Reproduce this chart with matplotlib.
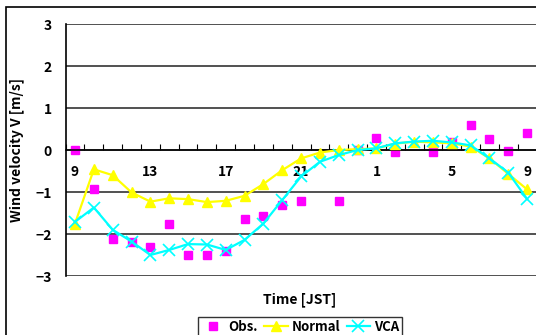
import matplotlib.pyplot as plt
import numpy as np
from matplotlib.patches import Rectangle

plt.rcParams['font.family'] = ['Noto Sans CJK JP', 'DejaVu Sans']
plt.rcParams['font.weight'] = 'bold'

# hourly values from 9 JST to 9 JST next day
hours = [9, 10, 11, 12, 13, 14, 15, 16, 17, 18, 19, 20, 21, 22, 23, 0,
         1, 2, 3, 4, 5, 6, 7, 8, 9]
obs = [0.0, -0.94, -2.11, -2.2, -2.3, -1.77, -2.51, -2.51, -2.4, -1.64,
       -1.58, -1.32, -1.21, np.nan, -1.21, 0.0, 0.29, -0.04, np.nan, -0.04,
       0.2, 0.59, 0.26, -0.02, 0.41]
normal = [-1.75, -0.46, -0.6, -1.01, -1.23, -1.15, -1.17, -1.24, -1.21, -1.09,
          -0.81, -0.48, -0.2, -0.06, 0.0, 0.02, 0.04, 0.15, 0.2, 0.18,
          0.16, 0.08, -0.2, -0.57, -0.94]
vca = [-1.71, -1.37, -1.9, -2.18, -2.5, -2.38, -2.24, -2.25, -2.38, -2.14,
       -1.75, -1.19, -0.63, -0.28, -0.12, 0.0, 0.04, 0.16, 0.2, 0.22,
       0.18, 0.11, -0.2, -0.54, -1.17]

x = np.arange(len(hours))

fig = plt.figure(figsize=(5.36, 3.35), dpi=100)
ax = fig.add_axes([65.6 / 536, 1 - 276 / 335, 471 / 536, 252 / 335])

# chart frame
fig.patches.append(Rectangle((6 / 536, -0.1), 1.0, 1 - 7 / 335 + 0.1,
                             transform=fig.transFigure, fill=False,
                             edgecolor='black', linewidth=1.2))

ax.plot(x, normal, color='#ffff00', lw=1.6, marker='^', ms=7,
        markeredgecolor='#ffff00', label='Normal', zorder=3)
ax.plot(x, vca, color='#00ffff', lw=1.6, marker='x', ms=8, mew=1.2,
        label='VCA', zorder=4)
ax.plot(x, obs, ls='none', marker='s', ms=6, color='#ff00ff',
        label='Obs.', zorder=2)

ax.set_xlim(-0.5, len(hours) - 0.5)
ax.set_ylim(-3, 3)
ax.set_yticks(range(-3, 4))
ax.yaxis.grid(True, color='#222222', lw=1.1)
ax.set_axisbelow(True)
ax.tick_params(axis='y', length=0, labelsize=10, pad=10)

ax.spines['bottom'].set_position(('data', 0))
ax.spines['right'].set_visible(False)
ax.spines['top'].set_visible(False)
ax.spines['left'].set_linewidth(1.2)
ax.spines['bottom'].set_linewidth(1.1)

ax.set_xticks(x[::4])
ax.set_xticklabels([str(h) for h in hours[::4]])
ax.set_xticks(np.arange(-0.5, len(hours), 1.0), minor=True)
ax.tick_params(axis='x', which='major', length=0, labelsize=10, pad=11)
ax.tick_params(axis='x', which='minor', direction='in', length=4, width=0.8)

ax.set_ylabel('Wind velocity V [m/s]', fontsize=10, fontweight='bold')
ax.yaxis.set_label_coords(-0.088, 0.5)
fig.text(300 / 536, 1 - 300 / 335, 'Time [JST]', ha='center', va='center',
         fontsize=10, fontweight='bold')

handles, labels = ax.get_legend_handles_labels()
order = [2, 0, 1]
leg = fig.legend([handles[i] for i in order], [labels[i] for i in order],
                 loc='center', bbox_to_anchor=(300 / 536, 1 - 327 / 335),
                 ncol=3, fontsize=9.5, frameon=True, fancybox=False,
                 edgecolor='black', handlelength=1.8, handletextpad=0.25,
                 columnspacing=0.5, borderpad=0.25)
leg.get_frame().set_linewidth(1.0)

fig.savefig('out.png', dpi=100)
